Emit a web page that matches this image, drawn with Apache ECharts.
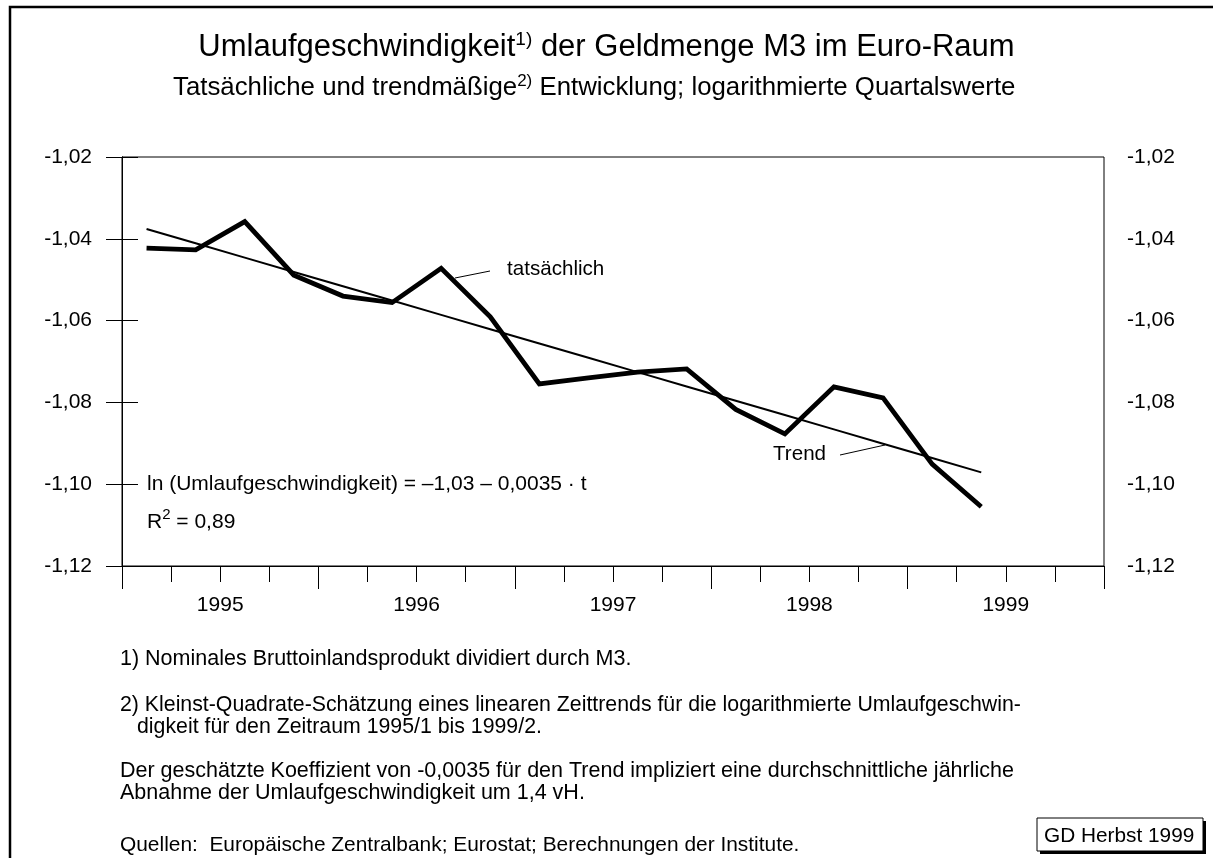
<!DOCTYPE html>
<html>
<head>
<meta charset="utf-8">
<script src="https://cdn.jsdelivr.net/npm/echarts@6/dist/echarts.min.js"></script>
<style>
  html, body { margin: 0; padding: 0; background: #fff; }
  #chart { width: 1213px; height: 858px; }
</style>
</head>
<body>
<div id="chart"></div>
<script>
// quarterly values 1995/1 .. 1999/2 (logarithmierte Umlaufgeschwindigkeit)
const quarters = ['1995/1', '1995/2', '1995/3', '1995/4', '1996/1', '1996/2', '1996/3', '1996/4',
  '1997/1', '1997/2', '1997/3', '1997/4', '1998/1', '1998/2', '1998/3', '1998/4', '1999/1', '1999/2'];
const actual = [-1.0423, -1.0427, -1.0358, -1.0489, -1.0540, -1.0556, -1.0472, -1.0591,
  -1.0755, -1.0740, -1.0726, -1.0718, -1.0817, -1.0877, -1.0762, -1.0789, -1.0951, -1.1055];
const trend = [-1.0376, -1.0411, -1.0446, -1.0481, -1.0516, -1.0551, -1.0586, -1.0621,
  -1.0656, -1.0691, -1.0726, -1.0761, -1.0796, -1.0831, -1.0866, -1.0901, -1.0936, -1.0971];
const years = ['1995', '1996', '1997', '1998', '1999'];

const FONT = "'Liberation Sans', Arial, sans-serif";
const BLACK = '#000';
const AXIS_FS = 21;
const NOTE_FS = 21.5;

// x position of each quarter: centre of its slot on a 0..20 quarter axis
const toPoints = vals => vals.map((v, i) => [i + 0.5, v]);

const yLabel = v => v.toFixed(2).replace('.', ',');

const chart = echarts.init(document.getElementById('chart'), null, { renderer: 'canvas' });

// y is the wanted vertical centre of the text
const txt = (left, y, text, size, extra) => ({
  type: 'text',
  left: left,
  top: y - size * 0.45,
  style: Object.assign({ text: text, fill: BLACK, font: size + 'px ' + FONT }, extra || {})
});

const line = (x1, y1, x2, y2, w) => ({
  type: 'line',
  shape: { x1, y1, x2, y2 },
  style: { stroke: BLACK, lineWidth: w || 1 }
});

chart.setOption({
  animation: false,
  backgroundColor: '#fff',
  textStyle: { fontFamily: FONT, color: BLACK },
  title: [
    {
      text: 'Umlaufgeschwindigkeit{sup|1)}{t| der Geldmenge M3 im Euro-Raum}',
      left: 'center',
      top: 25,
      textStyle: {
        fontSize: 31, fontWeight: 'normal', color: BLACK, fontFamily: FONT,
        rich: {
          t: { fontSize: 31, color: BLACK, fontFamily: FONT },
          sup: { fontSize: 19, color: BLACK, fontFamily: FONT, verticalAlign: 'top', lineHeight: 35 }
        }
      }
    },
    {
      text: 'Tatsächliche und trendmäßige{sup|2)}{t| Entwicklung; logarithmierte Quartalswerte}',
      left: 168,
      top: 68,
      textStyle: {
        fontSize: 25.8, fontWeight: 'normal', color: BLACK, fontFamily: FONT,
        rich: {
          t: { fontSize: 25.8, color: BLACK, fontFamily: FONT },
          sup: { fontSize: 17, color: BLACK, fontFamily: FONT, verticalAlign: 'top', lineHeight: 30 }
        }
      }
    }
  ],
  grid: {
    left: 122, right: 109, top: 157, bottom: 292,
    show: true, borderColor: BLACK, borderWidth: 1, backgroundColor: 'transparent'
  },
  xAxis: [
    {
      type: 'value', min: 0, max: 20, interval: 1,
      axisLine: { show: true, lineStyle: { color: BLACK, width: 1 } },
      axisTick: { show: true, length: 16, lineStyle: { color: BLACK } },
      axisLabel: { show: false },
      splitLine: { show: false }
    },
    {
      type: 'value', min: 0, max: 20, interval: 4, position: 'bottom',
      axisLine: { show: false },
      axisTick: { show: true, length: 23, lineStyle: { color: BLACK } },
      axisLabel: { show: false },
      splitLine: { show: false }
    },
    {
      type: 'value', min: 0, max: 20, interval: 2, position: 'bottom',
      axisLine: { show: false },
      axisTick: { show: false },
      axisLabel: {
        show: true, margin: 29, fontSize: AXIS_FS, color: BLACK, fontFamily: FONT,
        formatter: v => (v % 4 === 2 ? years[(v - 2) / 4] : '')
      },
      splitLine: { show: false }
    }
  ],
  yAxis: [
    {
      type: 'value', min: -1.12, max: -1.02, interval: 0.02, position: 'left',
      axisLine: { show: true, lineStyle: { color: BLACK, width: 1 } },
      axisTick: { show: true, length: 16, lineStyle: { color: BLACK } },
      axisLabel: { margin: 30, fontSize: AXIS_FS, color: BLACK, fontFamily: FONT, formatter: yLabel },
      splitLine: { show: false }
    },
    {
      type: 'value', min: -1.12, max: -1.02, interval: 0.02, position: 'right',
      axisLine: { show: true, lineStyle: { color: BLACK, width: 1 } },
      axisTick: { show: true, length: 16, lineStyle: { color: BLACK } },
      axisLabel: { margin: 23, fontSize: AXIS_FS, color: BLACK, fontFamily: FONT, formatter: yLabel },
      splitLine: { show: false }
    }
  ],
  series: [
    {
      name: 'Trend', type: 'line', xAxisIndex: 0, yAxisIndex: 0,
      data: toPoints(trend), symbol: 'none', z: 2,
      lineStyle: { color: BLACK, width: 2 }
    },
    {
      name: 'tatsächlich', type: 'line', xAxisIndex: 0, yAxisIndex: 0,
      data: toPoints(actual), symbol: 'none', z: 3,
      lineStyle: { color: BLACK, width: 4.8, join: 'miter' }
    }
  ],
  graphic: [
    // outer frame
    { type: 'rect', shape: { x: 10, y: 7, width: 1300, height: 900 },
      style: { fill: 'none', stroke: BLACK, lineWidth: 2.5 } },
    // series labels
    txt(507, 268, 'tatsächlich', 20.6),
    line(455, 278, 490, 271, 1),
    txt(773, 453, 'Trend', 20.6),
    line(840, 455, 885, 445, 1),
    // regression
    txt(147, 483, 'ln (Umlaufgeschwindigkeit) = \u20131,03 \u2013 0,0035 \u00b7 t', AXIS_FS),
    {
      type: 'text', left: 147, top: 507,
      style: {
        text: '{t|R}{sup|2}{t| = 0,89}', fill: BLACK, font: AXIS_FS + 'px ' + FONT,
        rich: {
          t: { fontSize: AXIS_FS, fontFamily: FONT, fill: BLACK, verticalAlign: 'bottom', lineHeight: 26 },
          sup: { fontSize: 15, fontFamily: FONT, fill: BLACK, verticalAlign: 'top', lineHeight: 26 }
        }
      }
    },
    // footnotes
    txt(120, 658, '1) Nominales Bruttoinlandsprodukt dividiert durch M3.', NOTE_FS),
    txt(120, 704, '2) Kleinst-Quadrate-Schätzung eines linearen Zeittrends für die logarithmierte Umlaufgeschwin-', 21.3),
    txt(137, 726, 'digkeit für den Zeitraum 1995/1 bis 1999/2.', 21.3),
    txt(120, 770, 'Der geschätzte Koeffizient von -0,0035 für den Trend impliziert eine durchschnittliche jährliche', NOTE_FS),
    txt(120, 792, 'Abnahme der Umlaufgeschwindigkeit um 1,4 vH.', NOTE_FS),
    txt(120, 844, 'Quellen:  Europäische Zentralbank; Eurostat; Berechnungen der Institute.', 20.9),
    // GD stamp with shadow
    { type: 'rect', shape: { x: 1040, y: 821, width: 166, height: 33 }, style: { fill: BLACK } },
    { type: 'rect', shape: { x: 1037, y: 818, width: 166, height: 33 },
      style: { fill: '#fff', stroke: BLACK, lineWidth: 1 } },
    txt(1044, 835, 'GD Herbst 1999', 20.8)
  ]
});
</script>
</body>
</html>
